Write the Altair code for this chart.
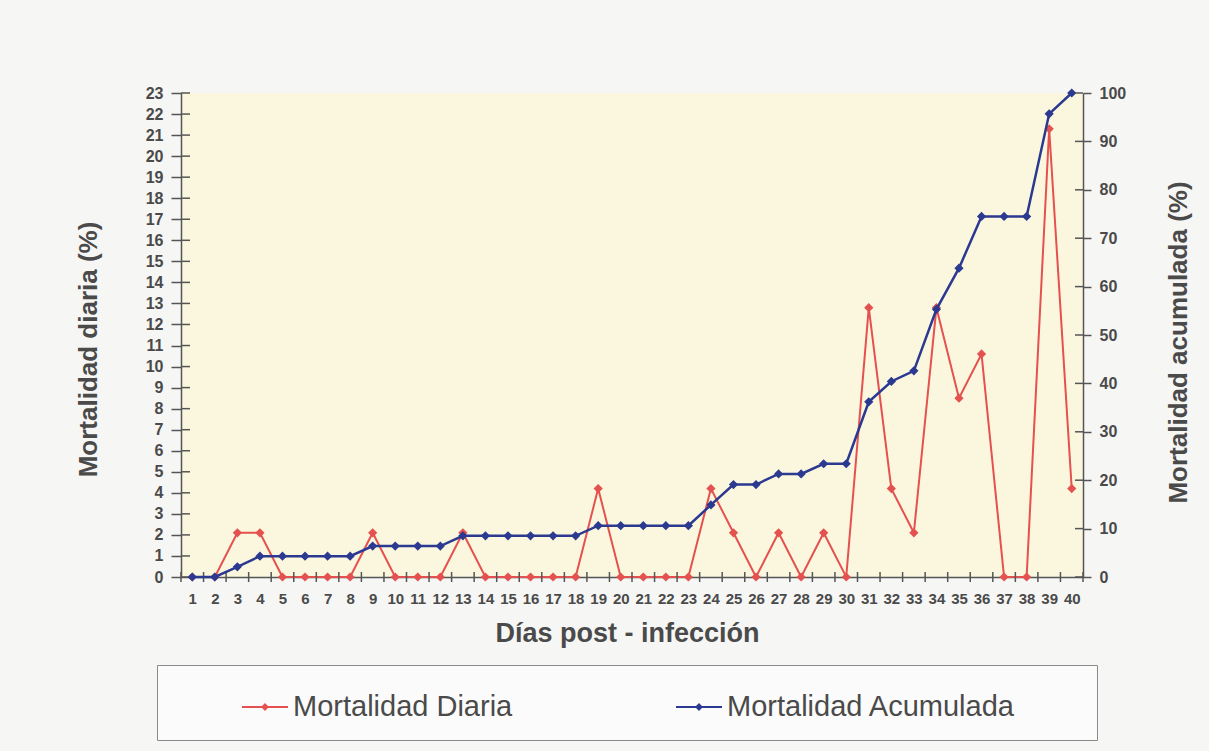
import altair as alt
import pandas as pd

# ---------------- data ----------------
dias = list(range(1, 41))
mortalidad_diaria = [0, 0, 2.1, 2.1, 0, 0, 0, 0, 2.1, 0,
                     0, 0, 2.1, 0, 0, 0, 0, 0, 4.2, 0,
                     0, 0, 0, 4.2, 2.1, 0, 2.1, 0, 2.1, 0,
                     12.8, 4.2, 2.1, 12.8, 8.5, 10.6, 0, 0, 21.3, 4.2]
mortalidad_acumulada = [0, 0, 2.1, 4.3, 4.3, 4.3, 4.3, 4.3, 6.4, 6.4,
                        6.4, 6.4, 8.5, 8.5, 8.5, 8.5, 8.5, 8.5, 10.6, 10.6,
                        10.6, 10.6, 10.6, 14.9, 19.1, 19.1, 21.3, 21.3, 23.4, 23.4,
                        36.2, 40.4, 42.6, 55.3, 63.8, 74.5, 74.5, 74.5, 95.7, 100]
series = ["Mortalidad Diaria", "Mortalidad Acumulada"]
colores = ["#e4514f", "#2b3990"]
ticks_izq = list(range(0, 24))
ticks_der = list(range(0, 101, 10))
limites_dias = [d - 0.5 for d in dias] + [dias[-1] + 0.5]

df = pd.DataFrame({"dia": dias, "diaria": mortalidad_diaria,
                   "acumulada": mortalidad_acumulada})
df_d = df.assign(serie=series[0])
df_a = df.assign(serie=series[1])
df_ti = pd.DataFrame({"v": ticks_izq})
df_td = pd.DataFrame({"v": ticks_der})
df_lim = pd.DataFrame({"lim": limites_dias})

# ---------------- styling ----------------
W, H = 902, 484
FONT = "Liberation Sans, Arial, Helvetica, sans-serif"
GRAY = "#555555"
TXT = "#4a4a4a"

x_scale = alt.Scale(domain=[0.5, 40.5], nice=False, zero=False)
x_axis = alt.Axis(values=dias, title="Días post - infección", ticks=False, grid=False,
                  labelFontSize=15, labelFontWeight="bold", labelColor=TXT,
                  labelPadding=21, labelBaseline="middle", labelFlush=False,
                  labelOverlap=False, domainColor=GRAY, domainWidth=1.5,
                  titleFontSize=27, titleFontWeight="bold", titleColor=TXT,
                  titleBaseline="alphabetic", titleY=64, titleX=446, titleAlign="center")

yl_scale = alt.Scale(domain=[0, 23], nice=False)
yl_axis = alt.Axis(values=ticks_izq, orient="left", title="Mortalidad diaria (%)", grid=False,
                   tickSize=10, tickColor=GRAY, tickWidth=1.5, labelPadding=8,
                   labelFontSize=16, labelFontWeight="bold", labelColor=TXT,
                   domainColor=GRAY, domainWidth=1.5,
                   titleFontSize=26, titleFontWeight="bold", titleColor=TXT,
                   titleX=-93, titleY=256, titleAngle=270, titleBaseline="middle",
                   titleAlign="center")

yr_scale = alt.Scale(domain=[0, 100], nice=False)
yr_axis = alt.Axis(values=ticks_der, orient="right", title="Mortalidad acumulada (%)", grid=False,
                   tickSize=8, tickColor=GRAY, tickWidth=1.5, labelPadding=8,
                   labelFontSize=16, labelFontWeight="bold", labelColor=TXT,
                   domainColor=GRAY, domainWidth=1.5,
                   titleFontSize=26, titleFontWeight="bold", titleColor=TXT,
                   titleX=95, titleY=249, titleAngle=270, titleBaseline="middle",
                   titleAlign="center")

relleno = "\u2800" * 3  # blank (non-whitespace) padding so the legend frame reaches the right
leyenda = alt.Legend(
    title="·", titleOrient="left", titleOpacity=0, titleFontSize=2, titlePadding=65,
    orient="none", legendX=-24, legendY=572, direction="horizontal",
    columnPadding=159, padding=18,
    symbolType="M-1,0L1,0M0,-0.11L0.11,0L0,0.11L-0.11,0Z",
    symbolSize=2116, symbolStrokeWidth=2,
    labelFontSize=29, labelColor=TXT, labelOffset=4, labelLimit=700,
    labelExpr="datum.value == 'Mortalidad Acumulada' ? datum.label + '" + relleno + "' : datum.label",
    strokeColor="#8a8a8a", fillColor="#fbfbfb",
)
color = alt.Color("serie:N", scale=alt.Scale(domain=series, range=colores), legend=leyenda)

X = alt.X("dia:Q", scale=x_scale, axis=x_axis)

# ---------------- left (daily) group ----------------
linea_d = alt.Chart(df_d).mark_line(strokeWidth=2).encode(
    x=X, y=alt.Y("diaria:Q", scale=yl_scale, axis=yl_axis), color=color)
puntos_d = alt.Chart(df_d).mark_point(shape="diamond", filled=True, size=85, opacity=1).encode(
    x=X, y=alt.Y("diaria:Q", scale=yl_scale, axis=yl_axis), color=color)
tick_in_izq = alt.Chart(df_ti).mark_rule(color=GRAY, strokeWidth=1.5).encode(
    y=alt.Y("v:Q", scale=yl_scale, axis=yl_axis), x=alt.value(0), x2=alt.value(9))
tick_x = alt.Chart(df_lim).mark_rule(color=GRAY, strokeWidth=1.5).encode(
    x=alt.X("lim:Q", scale=x_scale, axis=x_axis), y=alt.value(H - 5), y2=alt.value(H + 5))
izq = alt.layer(linea_d, puntos_d, tick_in_izq, tick_x)

# ---------------- right (cumulative) group ----------------
linea_a = alt.Chart(df_a).mark_line(strokeWidth=2.5).encode(
    x=X, y=alt.Y("acumulada:Q", scale=yr_scale, axis=yr_axis), color=color)
puntos_a = alt.Chart(df_a).mark_point(shape="diamond", filled=True, size=85, opacity=1).encode(
    x=X, y=alt.Y("acumulada:Q", scale=yr_scale, axis=yr_axis), color=color)
tick_in_der = alt.Chart(df_td).mark_rule(color=GRAY, strokeWidth=1.5).encode(
    y=alt.Y("v:Q", scale=yr_scale, axis=yr_axis), x=alt.value(W - 8), x2=alt.value(W))
der = alt.layer(linea_a, puntos_a, tick_in_der)

chart = alt.layer(izq, der).resolve_scale(y="independent").properties(
    width=W, height=H,
    autosize=alt.AutoSizeParams(type="none"),
    padding={"left": 181, "top": 93, "right": 126, "bottom": 174},
    background="#f6f6f4",
).configure(font=FONT).configure_view(fill="#fbf7df", stroke=None)

chart.save("out.html", embed_options={"renderer": "svg", "actions": False})
